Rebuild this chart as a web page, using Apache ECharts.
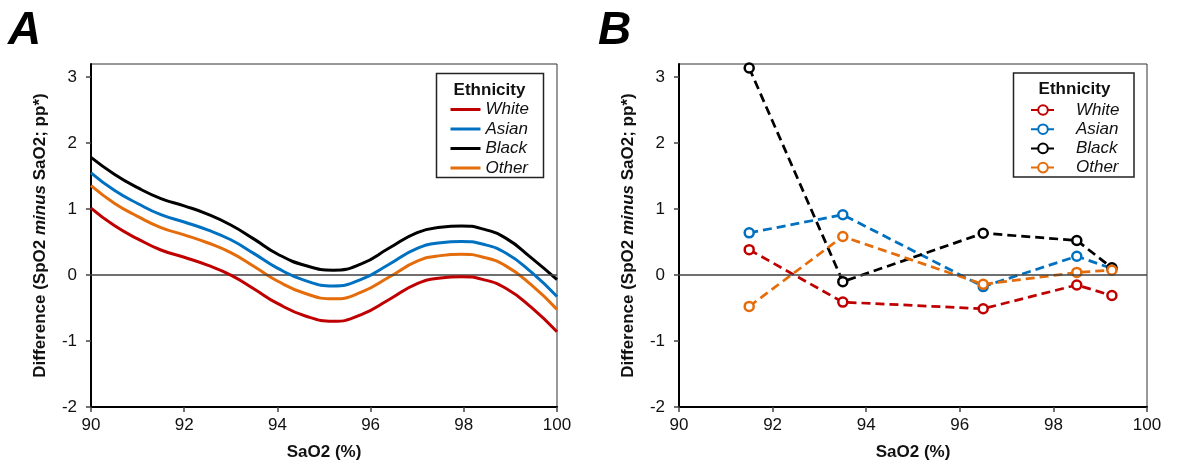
<!DOCTYPE html>
<html><head><meta charset="utf-8">
<script src="https://cdn.jsdelivr.net/npm/echarts@6/dist/echarts.min.js"></script>
<style>html,body{margin:0;padding:0;background:#fff}#c{width:1178px;height:466px}</style>
</head><body><div id="c"></div>
<script>
// ---- data ----
const ethnicities = ['White', 'Asian', 'Black', 'Other'];
const seriesColors = ['#C00000', '#0070C0', '#000000', '#E46C0A'];

// Panel A: fitted curves
const fitX     = [90, 90.5, 91, 91.5, 92, 92.5, 93, 93.5, 94, 94.6, 95.2, 95.8, 96.4, 97.0, 97.5, 97.95, 98.4, 98.9, 99.45, 100];
const fitWhite = [1.015, 0.75, 0.55, 0.38, 0.27, 0.15, 0.0, -0.21, -0.43, -0.62, -0.70, -0.60, -0.37, -0.13, -0.045, -0.025, -0.065, -0.20, -0.49, -0.86];
const fitAsian = [1.55, 1.285, 1.085, 0.915, 0.805, 0.685, 0.535, 0.325, 0.105, -0.085, -0.165, -0.065, 0.165, 0.405, 0.49, 0.51, 0.47, 0.335, 0.045, -0.325];
const fitBlack = [1.785, 1.53, 1.325, 1.16, 1.05, 0.925, 0.76, 0.545, 0.32, 0.145, 0.075, 0.17, 0.41, 0.645, 0.725, 0.745, 0.70, 0.56, 0.26, -0.07];
const fitOther = [1.355, 1.09, 0.89, 0.72, 0.61, 0.49, 0.34, 0.13, -0.09, -0.28, -0.36, -0.26, -0.03, 0.21, 0.295, 0.315, 0.275, 0.14, -0.15, -0.52];

// Panel B: observed means
const obsX     = [91.5, 93.5, 96.5, 98.5, 99.25];
const obsWhite = [0.385, -0.41, -0.51, -0.15, -0.31];
const obsAsian = [0.64, 0.915, -0.175, 0.285, 0.10];
const obsBlack = [3.14, -0.10, 0.635, 0.525, 0.11];
const obsOther = [-0.475, 0.585, -0.14, 0.04, 0.075];

const xTicks = [90, 92, 94, 96, 98, 100];
const yTicks = [-2, -1, 0, 1, 2, 3];
const xTitle = 'SaO2 (%)';
const legendTitle = 'Ethnicity';
const panelLabels = ['A', 'B'];

// ---- build ----
const F = 'Liberation Sans, Arial, sans-serif';
const fitSets = [fitWhite, fitAsian, fitBlack, fitOther];
const obsSets = [obsWhite, obsAsian, obsBlack, obsOther];

function xAxisCfg(gi) {
  return {
    type: 'value', gridIndex: gi, min: xTicks[0], max: xTicks[xTicks.length - 1], interval: 2,
    axisLine: { show: true, onZero: false, lineStyle: { color: '#000', width: 2 } },
    axisTick: { show: true, inside: false, length: 5, lineStyle: { color: '#444', width: 1.5 } },
    axisLabel: { color: '#111', fontSize: 17, margin: 10, fontFamily: F },
    splitLine: { show: false },
    name: xTitle, nameLocation: 'middle', nameGap: 37,
    nameTextStyle: { fontWeight: 'bold', fontSize: 17, color: '#111', fontFamily: F }
  };
}
function yAxisCfg(gi) {
  return {
    type: 'value', gridIndex: gi, min: -2, max: 3.2, interval: 1,
    axisLine: { show: true, onZero: false, lineStyle: { color: '#000', width: 2 } },
    axisTick: { show: true, inside: false, length: 5, customValues: yTicks, lineStyle: { color: '#444', width: 1.5 } },
    axisLabel: { color: '#111', fontSize: 17, margin: 14, fontFamily: F, customValues: yTicks },
    splitLine: { show: false },
    name: '{b|Difference (SpO2 }{i|minus}{b| SaO2; pp*)}',
    nameLocation: 'middle', nameGap: 42,
    nameTextStyle: {
      fontFamily: F, color: '#111',
      rich: {
        b: { fontWeight: 'bold', fontSize: 17, fontFamily: F, color: '#111' },
        i: { fontWeight: 'bold', fontStyle: 'italic', fontSize: 17, fontFamily: F, color: '#111' }
      }
    }
  };
}
const zeroLine = {
  silent: true, symbol: ['none', 'none'], label: { show: false },
  lineStyle: { color: '#404040', width: 1.5, type: 'solid' },
  data: [{ yAxis: 0 }]
};

const series = [];
ethnicities.forEach((name, i) => {
  series.push({
    name: name, type: 'line', xAxisIndex: 0, yAxisIndex: 0,
    data: fitX.map((x, k) => [x, fitSets[i][k]]),
    smooth: 0.5, showSymbol: false, symbol: 'none', legendIcon: 'rect',
    lineStyle: { color: seriesColors[i], width: 3 }, itemStyle: { color: seriesColors[i] },
    z: 3 + (3 - i),
    markLine: i === 0 ? zeroLine : undefined
  });
});
ethnicities.forEach((name, i) => {
  series.push({
    name: 'B:' + name, type: 'line', xAxisIndex: 1, yAxisIndex: 1,
    data: obsX.map((x, k) => [x, obsSets[i][k]]),
    symbol: 'circle', symbolSize: 9, showSymbol: true,
    lineStyle: { color: seriesColors[i], width: 2.75, type: [9, 5] },
    itemStyle: { color: '#fff', borderColor: seriesColors[i], borderWidth: 2.5 },
    z: 3,
    markLine: i === 0 ? zeroLine : undefined
  });
});

const option = {
  animation: false,
  backgroundColor: '#fff',
  textStyle: { fontFamily: F },
  grid: [
    { left: 91, top: 64, width: 466, height: 346, show: true, borderColor: '#333', borderWidth: 1, backgroundColor: 'transparent' },
    { left: 679, top: 64, width: 468, height: 346, show: true, borderColor: '#333', borderWidth: 1, backgroundColor: 'transparent' }
  ],
  xAxis: [xAxisCfg(0), xAxisCfg(1)],
  yAxis: [yAxisCfg(0), yAxisCfg(1)],
  legend: [
    {
      orient: 'vertical', left: 444, top: 96, itemWidth: 30, itemHeight: 4, itemGap: 2.5,
      data: ethnicities, selectedMode: false,
      itemStyle: { opacity: 0 },
      lineStyle: { width: 3 },
      textStyle: { fontStyle: 'italic', fontSize: 17, color: '#111', fontFamily: F }
    },
    {
      orient: 'vertical', left: 1025, top: 96.5, itemWidth: 24, itemHeight: 12, itemGap: 2.2,
      data: ethnicities.map(n => 'B:' + n), selectedMode: false,
      formatter: n => n.slice(2),
      textStyle: { fontStyle: 'italic', fontSize: 17, color: '#111', fontFamily: F, padding: [0, 0, 0, 16] }
    }
  ],
  graphic: [
    { type: 'rect', shape: { x: 436.5, y: 73.5, width: 107, height: 104 }, style: { fill: 'none', stroke: '#222', lineWidth: 1.5 }, z: 10 },
    { type: 'rect', shape: { x: 1013.5, y: 73, width: 120.5, height: 104 }, style: { fill: 'none', stroke: '#222', lineWidth: 1.5 }, z: 10 },
    { type: 'text', x: 489.5, y: 90, style: { text: legendTitle, font: 'bold 17px ' + F, fill: '#111', textAlign: 'center', textVerticalAlign: 'middle' }, z: 10 },
    { type: 'text', x: 1074.5, y: 89, style: { text: legendTitle, font: 'bold 17px ' + F, fill: '#111', textAlign: 'center', textVerticalAlign: 'middle' }, z: 10 },
    { type: 'text', x: 8, y: 31, style: { text: panelLabels[0], font: 'italic bold 46px ' + F, fill: '#000', textAlign: 'left', textVerticalAlign: 'middle' }, z: 10 },
    { type: 'text', x: 598, y: 31, style: { text: panelLabels[1], font: 'italic bold 46px ' + F, fill: '#000', textAlign: 'left', textVerticalAlign: 'middle' }, z: 10 }
  ],
  series: series
};
const chart = echarts.init(document.getElementById('c'), null, { renderer: 'canvas' });
chart.setOption(option);
</script>
</body></html>
